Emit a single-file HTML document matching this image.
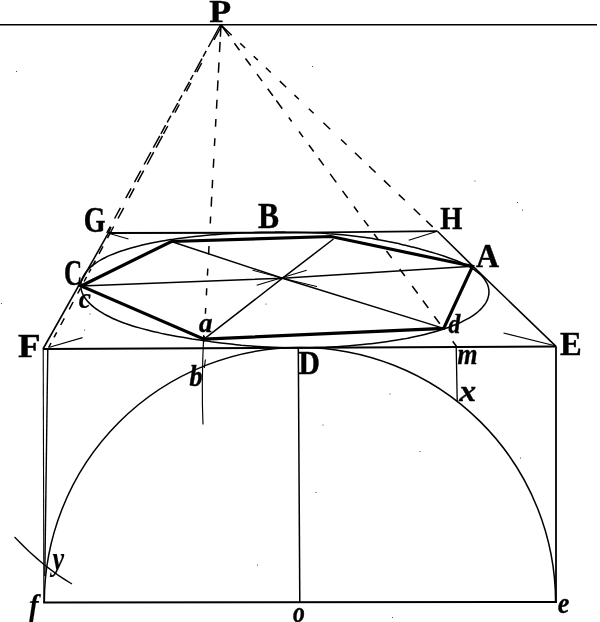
<!DOCTYPE html>
<html><head><meta charset="utf-8"><title>Figure</title>
<style>
html,body{margin:0;padding:0;background:#fff}
svg{display:block}
text{font-family:"Liberation Serif",serif;font-size:100px;font-weight:bold}
text.bi{font-style:italic}
</style></head><body>
<svg width="600" height="622" viewBox="0 0 600 622">
<rect width="600" height="622" fill="#fff"/>
<g fill="none" stroke="#000" stroke-width="1.5" stroke-linecap="butt">
<line x1="0" y1="24.7" x2="597" y2="24.7" stroke-width="1.6"/>
<line x1="108.3" y1="233.0" x2="300" y2="232.7" stroke-width="1.8"/>
<line x1="300" y1="232.7" x2="437.4" y2="231.2" stroke-width="1.8"/>
<line x1="111" y1="227" x2="108.3" y2="233.1" stroke-width="1.5"/>
<line x1="108.3" y1="233.1" x2="43" y2="349" stroke-width="1.6"/>
<line x1="437.4" y1="231.2" x2="472.3" y2="265.6" stroke-width="1.6"/>
<line x1="472.3" y1="265.6" x2="556" y2="346.4" stroke-width="1.6"/>
<line x1="43" y1="349" x2="556" y2="346.4" stroke-width="2.0"/>
<line x1="556" y1="346.2" x2="556" y2="602.8" stroke-width="1.8"/>
<line x1="43.2" y1="602.6" x2="556.9" y2="601.9" stroke-width="2.0"/>
<line x1="43.2" y1="349" x2="43.9" y2="602.7" stroke-width="1.1"/>
<line x1="47.8" y1="349" x2="44.8" y2="576" stroke-width="1.4"/>
<line x1="298.3" y1="348" x2="299.8" y2="602.4" stroke-width="1.5"/>
<line x1="456.2" y1="346.8" x2="457.2" y2="401" stroke-width="1.3"/>
<line stroke-width="1.1" x1="108.5" y1="233.2" x2="128.5" y2="239"/>
<line stroke-width="1.1" x1="437.3" y1="231.3" x2="408.7" y2="240.3"/>
<line stroke-width="1.1" x1="556" y1="346" x2="503.5" y2="333"/>
<line stroke-width="1.1" x1="49.5" y1="347.3" x2="82.5" y2="337.6"/>
<line stroke-width="1.1" x1="256.7" y1="285.3" x2="306.7" y2="270.3"/>
<path d="M488.9 293.4C488.8 294.4 488.7 295.4 488.4 296.4C488.2 297.4 487.9 298.4 487.5 299.4C487.1 300.3 486.6 301.3 486.1 302.3C485.5 303.3 484.9 304.3 484.1 305.3C483.4 306.2 482.6 307.2 481.7 308.2C480.8 309.1 479.9 310.1 478.8 311.0C477.8 312.0 476.6 312.9 475.4 313.8C474.2 314.7 472.8 315.7 471.4 316.6C470.0 317.5 468.5 318.4 466.9 319.2C465.3 320.1 463.7 321.0 461.9 321.8C460.1 322.7 458.3 323.5 456.3 324.3C454.4 325.2 452.4 326.0 450.3 326.7C448.2 327.5 446.0 328.3 443.7 329.0C441.4 329.8 439.1 330.5 436.7 331.2C434.3 331.9 431.8 332.6 429.2 333.3C426.7 334.0 424.1 334.6 421.4 335.2C418.7 335.9 415.9 336.5 413.1 337.1C410.3 337.7 407.5 338.2 404.5 338.8C401.6 339.3 398.6 339.8 395.6 340.3C392.6 340.8 389.5 341.3 386.4 341.7C383.3 342.2 380.1 342.6 376.9 343.0C373.7 343.4 370.5 343.8 367.2 344.1C363.9 344.5 360.6 344.8 357.2 345.1C353.9 345.5 350.5 345.8 347.1 346.0C343.7 346.3 340.3 346.5 336.8 346.7C333.3 346.9 329.8 347.1 326.3 347.3C322.8 347.4 319.3 347.6 315.7 347.6C312.2 347.7 308.6 347.8 305.0 347.8C301.4 347.9 297.8 347.9 294.3 347.8C290.7 347.8 287.1 347.8 283.5 347.7C279.9 347.6 276.3 347.5 272.8 347.3C269.2 347.2 265.6 347.0 262.1 346.8C258.6 346.6 255.0 346.3 251.6 346.0C248.1 345.8 244.6 345.5 241.2 345.2C237.8 344.8 234.4 344.5 231.0 344.1C227.6 343.7 224.3 343.3 221.0 342.9C217.7 342.5 214.4 342.1 211.2 341.7C207.9 341.2 204.7 340.8 201.5 340.3C198.3 339.8 195.1 339.3 192.0 338.9C188.8 338.4 185.7 337.9 182.6 337.3C179.5 336.8 176.4 336.3 173.4 335.7C170.3 335.1 167.3 334.6 164.4 334.0C161.5 333.4 158.5 332.7 155.7 332.1C152.9 331.4 150.1 330.8 147.4 330.1C144.6 329.4 142.0 328.7 139.4 327.9C136.8 327.2 134.3 326.5 131.9 325.7C129.5 324.9 127.1 324.1 124.8 323.3C122.6 322.5 120.4 321.6 118.3 320.8C116.2 319.9 114.2 319.1 112.3 318.2C110.4 317.3 108.6 316.4 106.9 315.5C105.1 314.6 103.5 313.7 102.0 312.7C100.4 311.8 99.0 310.9 97.6 309.9C96.2 309.0 95.0 308.0 93.8 307.1C92.6 306.1 91.4 305.1 90.4 304.1C89.4 303.2 88.4 302.2 87.6 301.2C86.7 300.2 85.9 299.2 85.2 298.2C84.5 297.2 83.9 296.3 83.4 295.3C82.8 294.3 82.4 293.3 82.0 292.3C81.7 291.3 81.4 290.3 81.2 289.3C81.0 288.2 80.9 287.2 80.9 286.2C80.8 285.2 80.9 284.2 81.0 283.2C81.1 282.2 81.4 281.2 81.7 280.3C81.9 279.3 82.3 278.3 82.8 277.3C83.2 276.3 83.8 275.3 84.4 274.3C85.0 273.3 85.7 272.4 86.5 271.4C87.3 270.4 88.2 269.4 89.1 268.5C90.1 267.5 91.2 266.6 92.3 265.6C93.5 264.7 94.8 263.8 96.1 262.8C97.5 261.9 98.9 261.0 100.5 260.1C102.0 259.2 103.7 258.3 105.4 257.5C107.2 256.6 109.0 255.8 111.0 254.9C112.9 254.1 115.0 253.3 117.1 252.5C119.2 251.7 121.5 250.9 123.8 250.2C126.1 249.4 128.5 248.7 131.0 248.0C133.4 247.3 136.0 246.6 138.6 246.0C141.3 245.3 144.0 244.7 146.8 244.1C149.5 243.5 152.4 242.9 155.3 242.3C158.2 241.8 161.1 241.2 164.1 240.7C167.1 240.2 170.2 239.7 173.3 239.3C176.4 238.8 179.6 238.4 182.7 237.9C185.9 237.5 189.1 237.1 192.4 236.8C195.6 236.4 198.9 236.1 202.2 235.7C205.5 235.4 208.9 235.1 212.2 234.8C215.6 234.5 219.0 234.3 222.4 234.0C225.8 233.8 229.2 233.6 232.7 233.4C236.1 233.2 239.6 233.0 243.1 232.8C246.5 232.7 250.0 232.6 253.6 232.5C257.1 232.3 260.6 232.3 264.1 232.2C267.7 232.1 271.2 232.1 274.8 232.1C278.4 232.0 281.9 232.0 285.5 232.1C289.1 232.1 292.7 232.1 296.3 232.2C299.8 232.3 303.4 232.4 307.0 232.5C310.6 232.7 314.2 232.8 317.8 233.0C321.3 233.2 324.9 233.4 328.4 233.7C332.0 233.9 335.5 234.2 339.0 234.5C342.5 234.8 346.0 235.1 349.4 235.5C352.8 235.9 356.2 236.3 359.5 236.7C362.9 237.2 366.2 237.6 369.4 238.1C372.6 238.6 375.8 239.2 378.9 239.7C382.1 240.3 385.1 240.9 388.1 241.5C391.1 242.1 394.1 242.7 397.0 243.3C399.9 244.0 402.7 244.6 405.5 245.3C408.3 246.0 411.1 246.6 413.8 247.3C416.5 248.0 419.2 248.7 421.8 249.5C424.5 250.2 427.1 250.9 429.6 251.7C432.2 252.4 434.7 253.2 437.1 253.9C439.6 254.7 442.0 255.5 444.4 256.3C446.7 257.1 449.0 257.9 451.2 258.7C453.5 259.5 455.6 260.4 457.7 261.2C459.8 262.1 461.8 263.0 463.7 263.9C465.6 264.8 467.4 265.7 469.1 266.6C470.8 267.5 472.3 268.5 473.8 269.4C475.2 270.4 476.6 271.3 477.8 272.3C479.0 273.3 480.1 274.3 481.1 275.3C482.1 276.3 483.0 277.3 483.8 278.3C484.6 279.3 485.2 280.3 485.8 281.3C486.4 282.3 487.0 283.3 487.4 284.3C487.8 285.3 488.1 286.3 488.4 287.3C488.6 288.3 488.8 289.3 488.9 290.4C489.0 291.4 489.0 292.4 488.9 293.4Z"/>
<path d="M44.3 602.5 A255.5 254.8 0 0 1 555.6 602"/>
<path d="M81 286L282.5 278.2L472.5 266.3M171.3 241.5L282.5 278.2L443.7 328.4M204 339.2L282.5 278.2L333.5 239"/>
<path stroke-width="1" d="M252.5 270.2L282.5 278.2L317 286.6"/>
<path stroke-width="1.2" d="M14.5 537 Q44 568 72 584"/>
<path stroke-width="1.15" d="M203.7 335 Q201.3 385 203 424.5"/>
<path stroke-width="1.15" d="M205.4 359.5 L204.3 368"/>
</g>
<polygon fill="none" stroke="#000" stroke-width="3.2" stroke-linejoin="miter" points="81,286 171.3,241.5 331,236.5 472.5,266.3 443.7,328.4 204,339.2"/>
<g fill="none" stroke="#000" stroke-width="1.5">
<path d="M220.4 25.0L208.4 47.0M206.2 50.9L203.1 56.7M202.0 58.6L194.7 72.1M193.1 75.0L190.4 79.8M189.4 81.8L184.1 91.4M182.0 95.3L178.9 101.0M177.8 103.0L172.5 112.7M170.9 115.6L167.2 122.3M165.6 125.2L160.9 133.9M159.8 135.8L153.3 147.7M150.9 152.1L144.1 164.5M140.8 170.7L134.5 182.2M131.1 188.4L125.8 198.1M120.4 207.9L114.6 218.5M110.3 226.5L106.7 233.0"/>
<path d="M222.1 25.0L214.0 40.0M201.7 63.0L196.8 72.1M190.9 83.0L186.4 91.4M179.3 104.5L174.9 112.7M167.8 126.0L163.5 133.9M162.5 135.8L156.1 147.7M153.7 152.1L147.1 164.5M143.7 170.7L137.5 182.2M134.2 188.4L129.0 198.1M123.7 207.9L118.0 218.5M113.7 226.5L110.2 233.0"/>
<path d="M110.2 233.0L107.5 238.1M103.0 246.4L99.0 253.8M95.4 260.6L92.3 266.3M90.9 268.9L88.9 272.6M86.6 276.8L84.1 281.5M80.4 288.4L77.7 293.5M73.1 302.0L69.2 309.3M64.3 318.3L60.7 325.0M56.7 332.4L54.0 337.4M51.0 343.0L48.6 347.6"/>
<path d="M221.0 25.0L220.4 36.7M220.1 41.9L219.5 52.1M219.0 62.4L218.4 72.7M218.0 80.4L217.4 90.7M217.0 99.7L216.5 108.7M215.9 119.0L215.5 126.7M214.9 138.3L214.4 146.0M213.8 158.8L213.3 167.8M212.6 179.9L212.2 188.3M211.7 196.8L211.2 206.6M210.6 216.5L210.3 223.5M209.0 246.0L208.6 254.5M207.8 268.6L207.4 275.6M206.7 288.3L206.4 295.4M205.7 308.0L205.4 313.7M204.2 336.0L203.8 342.0"/>
<path d="M221.8 25.8L231.7 35.2M240.2 43.3L245.1 48.0M253.7 56.2L257.8 60.1M265.9 67.8L270.8 72.5M279.8 81.1L286.2 87.2M294.5 95.1L298.9 99.3M308.8 108.7L313.6 113.3M323.4 122.7L330.2 129.2M341.0 139.5L346.6 144.8M354.9 152.7L361.7 159.2M369.1 166.3L375.6 172.5M383.9 180.4L390.5 186.7M398.8 194.6L404.8 200.3M413.7 208.8L420.2 215.0M426.2 220.7L432.7 226.9"/>
<path d="M221.6 25.8L229.3 36.3M234.4 43.3L239.5 50.3M245.5 58.5L250.7 65.5M257.0 74.1L262.1 81.1M267.7 88.8L272.9 95.8M276.3 100.5L282.3 108.7M288.8 117.5L291.7 121.5M299.0 131.5L303.1 137.1M308.9 145.0L313.7 151.5M318.6 158.3L323.8 165.4M330.1 173.9L336.3 182.4M342.5 190.9L347.7 198.0M353.9 206.5L358.1 212.2M363.9 220.1L368.5 226.3M374.1 234.0L378.5 240.0M386.5 251.0L391.7 258.0M399.7 269.0L404.9 276.0M412.2 286.0L417.7 293.5M422.8 300.5L428.3 308.0M434.3 316.2L439.8 323.8M452.7 341.2L456.9 347.0"/>
</g>
<g fill="#333"><circle cx="520.5" cy="458" r="0.6"/><circle cx="420" cy="451.5" r="0.6"/><circle cx="316" cy="492.5" r="0.6"/><circle cx="392.5" cy="617.5" r="0.6"/><circle cx="257.5" cy="565" r="0.6"/><circle cx="312.5" cy="66.5" r="0.6"/><circle cx="475" cy="181" r="0.6"/><circle cx="517.5" cy="202.5" r="0.6"/><circle cx="522.5" cy="210" r="0.6"/><circle cx="16.5" cy="71.5" r="0.6"/><circle cx="1.5" cy="303.5" r="0.6"/><circle cx="90" cy="314" r="0.6"/><circle cx="390" cy="394" r="0.6"/><circle cx="84.6" cy="330" r="0.6"/><circle cx="266" cy="304" r="0.6"/><circle cx="323" cy="425" r="0.6"/></g>
<g fill="#000" stroke="#000" stroke-width="2.5" stroke-linejoin="round" opacity="0.999">
<text class="b" stroke-width="1.4" transform="matrix(0.3587 0 0 0.3131 209.24 21.78)">P</text>
<text class="b" stroke-width="1.4" transform="matrix(0.2800 0 0 0.3559 83.80 232.19)">G</text>
<text class="b" stroke-width="1.4" transform="matrix(0.3153 0 0 0.3477 258.00 228.35)">B</text>
<text class="b" stroke-width="1.4" transform="matrix(0.2837 0 0 0.3221 440.23 229.47)">H</text>
<text class="b" stroke-width="1.4" transform="matrix(0.3192 0 0 0.3307 475.91 266.56)">A</text>
<text class="b" stroke-width="1.4" transform="matrix(0.2523 0 0 0.3515 63.92 284.90)">C</text>
<text class="b" stroke-width="1.4" transform="matrix(0.3698 0 0 0.3462 18.03 356.75)">F</text>
<text class="b" stroke-width="1.4" transform="matrix(0.3256 0 0 0.3417 560.08 355.26)">E</text>
<text class="b" stroke-width="1.4" transform="matrix(0.2965 0 0 0.3417 298.42 374.26)">D</text>
<text class="bi" stroke-width="0.8" transform="matrix(0.2756 0 0 0.2991 78.64 308.08)">c</text>
<text class="bi" stroke-width="1.8" transform="matrix(0.2674 0 0 0.2647 198.88 331.99)">a</text>
<text class="bi" stroke-width="1.8" transform="matrix(0.2352 0 0 0.2825 448.48 333.16)">d</text>
<text class="bi" stroke-width="1.5" transform="matrix(0.2599 0 0 0.2964 189.48 385.98)">b</text>
<text class="bi" stroke-width="1.2" transform="matrix(0.2575 0 0 0.2861 457.44 363.92)">m</text>
<text class="bi" stroke-width="1.2" transform="matrix(0.3372 0 0 0.2922 459.14 401.42)">x</text>
<text class="bi" stroke-width="0.3" transform="matrix(0.2622 0 0 0.3403 52.56 570.10)">y</text>
<text class="bi" stroke-width="0.3" transform="matrix(0.2881 0 0 0.3253 28.94 616.12)">f</text>
<text class="bi" stroke-width="1.5" transform="matrix(0.2363 0 0 0.2926 292.91 621.98)">o</text>
<text class="bi" stroke-width="1.2" transform="matrix(0.2619 0 0 0.3047 557.84 612.51)">e</text>
</g>
</svg>
</body></html>
